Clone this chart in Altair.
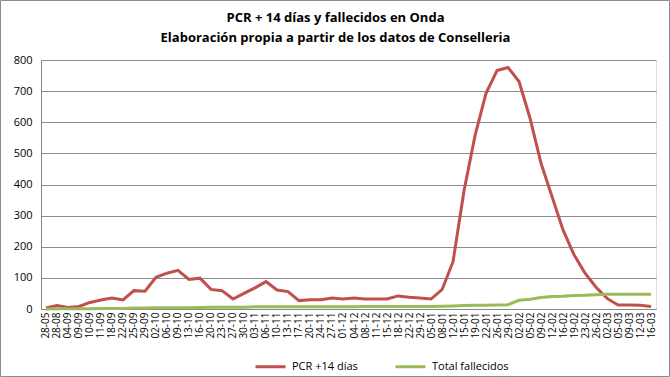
import altair as alt
import pandas as pd

fechas = ["28-05","28-08","04-09","09-09","10-09","11-09","18-09","22-09","25-09","29-09",
          "02-10","06-10","09-10","13-10","16-10","20-10","23-10","27-10","30-10","03-11",
          "06-11","10-11","13-11","17-11","20-11","24-11","27-11","01-12","04-12","08-12",
          "11-12","15-12","18-12","22-12","29-12","05-01","08-01","12-01","15-01","19-01",
          "22-01","26-01","29-01","02-02","05-02","09-02","12-02","16-02","19-02","23-02",
          "26-02","02-03","05-03","09-03","12-03","16-03"]

pcr14 = [3, 11, 5, 8, 21, 29, 35, 29, 59, 57,
         102, 115, 124, 95, 99, 63, 59, 32, 50, 68,
         88, 61, 56, 27, 30, 30, 35, 32, 35, 32,
         32, 32, 42, 38, 35, 32, 62, 152, 380, 557,
         693, 766, 776, 731, 613, 468, 361, 254, 174, 115,
         70, 34, 13, 13, 12, 8]

fallecidos = [0, 1, 1, 1, 1, 2, 2, 2, 3, 3,
              4, 4, 4, 4, 5, 6, 6, 6, 6, 7,
              7, 7, 7, 7, 7, 7, 7, 7, 7, 8,
              8, 8, 8, 8, 8, 8, 9, 10, 11, 12,
              12, 13, 14, 28, 31, 37, 40, 41, 43, 44,
              46, 47, 47, 47, 47, 47]

series_names = ["PCR +14 días", "Total fallecidos"]
series_colors = ["#C0504D", "#9BBB59"]

rows = []
for i, f in enumerate(fechas):
    rows.append({"fecha": f, "orden": i, "serie": series_names[0], "valor": pcr14[i]})
    rows.append({"fecha": f, "orden": i, "serie": series_names[1], "valor": fallecidos[i]})
df = pd.DataFrame(rows)

FONT = "Open Sans"

lines = alt.Chart(df).mark_line(strokeWidth=3).encode(
    x=alt.X("fecha:N", sort=fechas,
            scale=alt.Scale(type="point", padding=0.45),
            axis=alt.Axis(title=None, labelAngle=270, labelFontSize=10, labelColor="#000000",
                          labelFont=FONT, domainColor="#868686", ticks=False, labelPadding=3,
                          labelOverlap=False)),
    y=alt.Y("valor:Q", scale=alt.Scale(domain=[0, 800], nice=False),
            axis=alt.Axis(title=None, values=list(range(0, 801, 100)), labelFontSize=11,
                          labelColor="#000000", labelFont=FONT, grid=True, gridColor="#8C8C8C",
                          domainColor="#868686", ticks=False, labelPadding=9)),
    color=alt.Color("serie:N", scale=alt.Scale(domain=series_names, range=series_colors),
                    legend=alt.Legend(title=None, orient="none", legendX=213, legendY=290,
                                      direction="horizontal", symbolType="stroke",
                                      symbolSize=900, symbolStrokeWidth=3, labelFontSize=11,
                                      labelFont=FONT, labelColor="#000000", columnPadding=31,
                                      labelOffset=5)),
    order="orden:Q",
)

border = alt.Chart(pd.DataFrame({"b": [0]})).mark_rect(
    fillOpacity=0, stroke="#8C8C8C", strokeWidth=1, clip=False
).encode(
    x=alt.value(-40.5), x2=alt.value(628.5), y=alt.value(-59.5), y2=alt.value(316.5)
)

chart = alt.layer(border, lines).properties(
    width=615, height=249,
    padding={"left": 41, "top": 60, "right": 14, "bottom": 68},
    autosize=alt.AutoSizeParams(type="none"),
    title=alt.Title(["PCR + 14 días y fallecidos en Onda",
                     "Elaboración propia a partir de los datos de Conselleria"],
                    font=FONT, fontSize=13, fontWeight="bold", color="#000000",
                    anchor="middle", dx=-13, offset=-45, lineHeight=20),
).configure_view(stroke="#868686").configure(background="white")

chart.save("out.html", embed_options={"renderer": "svg", "actions": False})
